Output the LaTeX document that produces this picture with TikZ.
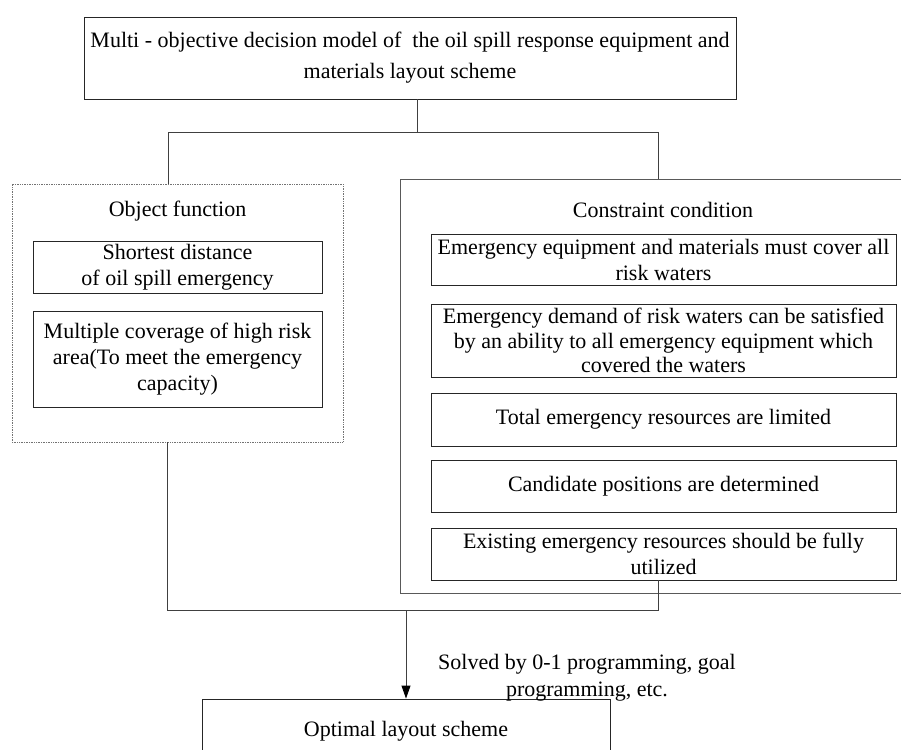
\documentclass[tikz,border=0pt]{standalone}
\usepackage{fontspec}
\setmainfont{Liberation Serif}
\usetikzlibrary{arrows.meta}
\tikzset{
  txt/.style={font=\fontsize{22}{26}\selectfont},
  box/.style={draw=black!85, line width=0.9pt, inner sep=0pt, align=center, txt},
  frame/.style={draw=black!65, line width=0.9pt, inner sep=0pt},
  dotframe/.style={draw=black!55, densely dotted, line width=0.7pt, inner sep=0pt},
  wire/.style={draw=black!75, line width=0.9pt},
  lbl/.style={inner sep=0pt, align=center, txt},
  arr/.style={-{Triangle[length=13pt,width=9pt,color=black,fill=black]}}
}
\begin{document}
\begin{tikzpicture}[x=1pt,y=-1pt]
\clip (0,0) rectangle (901,749);

% model box
\node[box, minimum width=652pt, minimum height=82pt,
      font=\fontsize{22}{31}\selectfont] (top) at (410,58)
  {Multi - objective decision model of\ \ the oil spill response equipment and\\materials layout scheme};

% objective side
\node[dotframe, minimum width=331pt, minimum height=258pt] (obj) at (177.5,313) {};
\node[lbl] (objt) at (177.5,211) {Object function};
\node[box, minimum width=289pt, minimum height=52pt] (o1) at (177.5,267)
  {Shortest distance\\of oil spill emergency};
\node[box, minimum width=289pt, minimum height=96pt] (o2) at (177.5,359)
  {Multiple coverage of high risk\\area(To meet the emergency\\capacity)};

% constraint side
\node[frame, minimum width=540pt, minimum height=414pt] (con) at (670,386) {};
\node[lbl] (cont) at (663,210) {Constraint condition};
\node[box, minimum width=465pt, minimum height=51pt] (ca) at (663.5,259.5)
  {Emergency equipment and materials must cover all\\risk waters};
\node[box, minimum width=465pt, minimum height=73pt,
      font=\fontsize{22}{24.5}\selectfont] (cb) at (663.5,340.5)
  {Emergency demand of risk waters can be satisfied\\by an ability to all emergency equipment which\\covered the waters};
\node[box, minimum width=465pt, minimum height=53pt] (cc) at (663.5,419.5)
  {Total emergency resources are limited};
\node[box, minimum width=465pt, minimum height=52pt] (cd) at (663.5,486)
  {Candidate positions are determined};
\node[box, minimum width=465pt, minimum height=52pt] (ce) at (663.5,554)
  {Existing emergency resources should be fully\\utilized};

% result
\node[box, minimum width=408pt, minimum height=64pt] (fin) at (406,731)
  {Optimal layout scheme};
\node[lbl, font=\fontsize{22}{27}\selectfont] (solve) at (587,678)
  {Solved by 0-1 programming, goal\\programming, etc.};

% connectors
\coordinate (stem) at (417,132);
\coordinate (hubL) at (168,132);
\coordinate (hubR) at (658,132);
\coordinate (lowL) at (167,610);
\coordinate (lowR) at (658,610);
\draw[wire] (stem |- top.south) -- (stem);
\draw[wire] (hubL |- obj.north) -- (hubL) -- (hubR) -- (hubR |- con.north);
\draw[wire] (lowL |- obj.south) -- (lowL) -- (lowR) -- (lowR |- ce.south);
\draw[wire, arr] (fin.north |- lowL) -- (fin.north);
\end{tikzpicture}
\end{document}
